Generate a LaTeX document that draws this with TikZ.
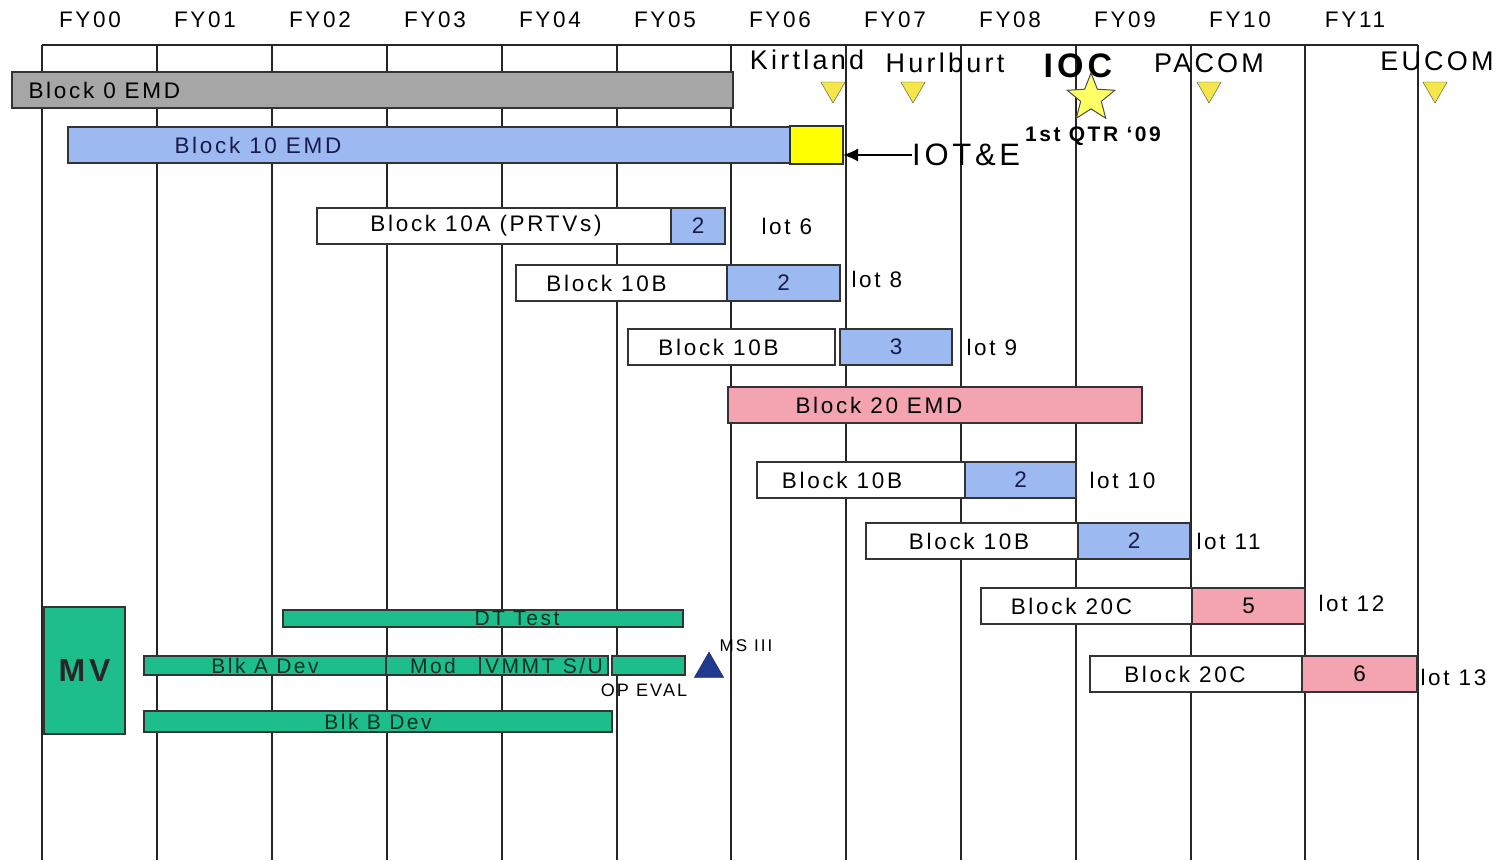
\documentclass[tikz,border=0pt]{standalone}
\usepackage{fontspec}
\setmainfont{Liberation Sans}[LetterSpace=12]
\usepackage{xcolor}
\usepackage{tikz}
\usetikzlibrary{positioning, arrows.meta, calc, shapes.geometric}
\definecolor{emdgray}{HTML}{A6A6A6}
\definecolor{lotblue}{HTML}{9DB9F2}
\definecolor{iotyellow}{HTML}{FFFF00}
\definecolor{lotpink}{HTML}{F4A4B0}
\definecolor{mvgreen}{HTML}{1EBE8C}
\definecolor{msblue}{HTML}{1F3A8F}
\definecolor{siteyellow}{HTML}{F2E64A}
\definecolor{starfill}{HTML}{FFFF66}
\definecolor{navytext}{HTML}{1A1A4A}
\newcommand\fsz[1]{\fontsize{#1}{#1}\selectfont}

\begin{document}
\begin{tikzpicture}[x=1pt, y=-1pt,
  yearline/.style={line width=1.4pt, black!85},
  bar/.style={draw=black!80, line width=1.4pt, outer sep=0pt, inner sep=0pt, minimum height=36pt, anchor=west, font=\fsz{22.5}},
  lotbox/.style={bar, fill=lotblue, text=navytext},
  whitebox/.style={bar, fill=white},
  pinkbox/.style={bar, fill=lotpink},
  gbar/.style={draw=black!80, line width=1.6pt, fill=mvgreen, inner sep=0pt, outer sep=0pt, anchor=west},
  lbl/.style={font=\fsz{22.5}},
  gtext/.style={font=\fsz{21}, text=black!75!mvgreen},
  sitemark/.style={regular polygon, regular polygon sides=3, shape border rotate=180, draw=black!70, fill=siteyellow, minimum size=28pt, inner sep=0pt},
  site/.style={font=\fsz{27}},
]
  \useasboundingbox (0,0) rectangle (1503,860);

  % year grid
  \foreach \x in {42,157,272,387,502,617,731,846,961,1076,1191,1305,1418}
    \draw[yearline] (\x,45) -- (\x,860);
  \draw[yearline, line width=2pt] (42,45) -- (1418,45);
  \foreach \y [count=\i from 0] in {00,01,02,03,04,05,06,07,08,09,10,11}
    \node[lbl] (fy\y) at (90+115*\i,20) {FY\y};

  % sites and IOC
  \node[site] (kirtt) at (807,60) {Kirtland};
  \node[sitemark] (kirt) at (833,89) {};
  \node[site] (hurlt) at (945,63) {Hurlburt};
  \node[sitemark] (hurl) at (913,89) {};
  \node[font=\fsz{34}\bfseries] (ioct) at (1078,66) {IOC};
  \node[star, star points=5, star point ratio=2.3, draw=black!70, line width=1pt, fill=starfill, minimum size=50pt, inner sep=0pt] (ioc) at (1091,98) {};
  \node[site] (pact) at (1209,63) {PACOM};
  \node[sitemark] (pac) at (1209,89) {};
  \node[site] (euct) at (1437,61) {EUCOM};
  \node[sitemark] (euc) at (1435,89) {};
  \node[font=\fsz{21}\bfseries] (qtr) at (1093,136) {1st QTR `09};

  % EMD blocks
  \node[bar, fill=emdgray, minimum width=721] (b0) at (12,90) {};
  \node[lbl, right=13pt of b0.west] (b0t) {Block 0 EMD};
  \node[bar, fill=lotblue, minimum width=722] (b10) at (68,145) {};
  \node[lbl, text=navytext, right=103pt of b10.west] (b10t) {Block 10 EMD};
  \node[bar, fill=iotyellow, minimum width=53, minimum height=38pt, right=0pt of b10] (iot) {};
  \node[font=\fsz{31}, anchor=west, inner sep=0pt] (iote) at (912,155) {IOT\&E};
  \draw[line width=1.6pt, -{Latex[length=15pt,width=13pt]}] (iote.west) -- (iote.west -| iot.east);

  % production lots
  \node[whitebox, minimum width=354] (b10a) at (317,226) {Block 10A (PRTVs)\hspace*{16pt}};
  \node[lotbox, minimum width=54, right=0pt of b10a] (b10an) {2};
  \node[lbl, right=33pt of b10an] (lot6) {lot 6};

  \node[whitebox, minimum width=211] (l8w) at (516,283) {Block 10B\hspace*{30pt}};
  \node[lotbox, minimum width=113, right=0pt of l8w] (l8n) {2};
  \node[lbl, right=8pt of l8n, yshift=4pt] (lot8) {lot 8};

  \node[whitebox, minimum width=207] (l9w) at (628,347) {Block 10B\hspace*{26pt}};
  \node[lotbox, minimum width=112, right=5pt of l9w] (l9n) {3};
  \node[lbl, right=11pt of l9n] (lot9) {lot 9};

  \node[bar, fill=lotpink, minimum width=414] (b20) at (728,405) {};
  \node[lbl, right=64pt of b20.west] (b20t) {Block 20 EMD};

  \node[whitebox, minimum width=208] (l10w) at (757,480) {Block 10B\hspace*{38pt}};
  \node[lotbox, minimum width=111, right=0pt of l10w] (l10n) {2};
  \node[lbl, right=10pt of l10n] (lot10) {lot 10};

  \node[whitebox, minimum width=212] (l11w) at (866,541) {Block 10B\hspace*{6pt}};
  \node[lotbox, minimum width=112, right=0pt of l11w] (l11n) {2};
  \node[lbl, right=3pt of l11n] (lot11) {lot 11};

  \node[whitebox, minimum width=211] (l12w) at (981,606) {Block 20C\hspace*{30pt}};
  \node[pinkbox, minimum width=113, right=0pt of l12w] (l12n) {5};
  \node[lbl, right=10pt of l12n, yshift=3pt] (lot12) {lot 12};

  \node[whitebox, minimum width=212] (l13w) at (1090,674) {Block 20C\hspace*{22pt}};
  \node[pinkbox, minimum width=115, right=0pt of l13w] (l13n) {6};
  \node[lbl, right=0pt of l13n, yshift=-3pt] (lot13) {lot 13};

  % MV development
  \node[gbar, anchor=center, minimum width=81, minimum height=127, font=\fsz{32}\bfseries, text=black!85] (mv) at (84.5,670.5) {MV};
  \node[gbar, minimum width=400, minimum height=17] (dt) at (283,618.5) {};
  \node[gtext] (dtt) at (517,618) {DT Test};
  \node[gbar, minimum width=242, minimum height=19] (blka) at (144,665.5) {};
  \node[gbar, minimum width=94, minimum height=19, right=0pt of blka] (mod) {};
  \node[gbar, minimum width=128, minimum height=19, right=0pt of mod] (vmmt) {};
  \node[gbar, minimum width=73, minimum height=19] (opev) at (612,665.5) {};
  \node[gtext] at (blka) {Blk A Dev};
  \node[gtext] at (mod) {Mod};
  \node[gtext] at (vmmt) {VMMT S/U};
  \node[gbar, minimum width=468, minimum height=21] (blkb) at (144,721.5) {};
  \node[gtext] at (blkb) {Blk B Dev};
  \node[font=\fsz{18}] (opevt) at (644,690) {OP EVAL};
  \node[regular polygon, regular polygon sides=3, fill=msblue, draw=msblue!70!black, minimum size=34pt, inner sep=0pt] (ms3) at (709,669) {};
  \node[font=\fsz{17}] (ms3t) at (746,646) {MS III};
\end{tikzpicture}
\end{document}
